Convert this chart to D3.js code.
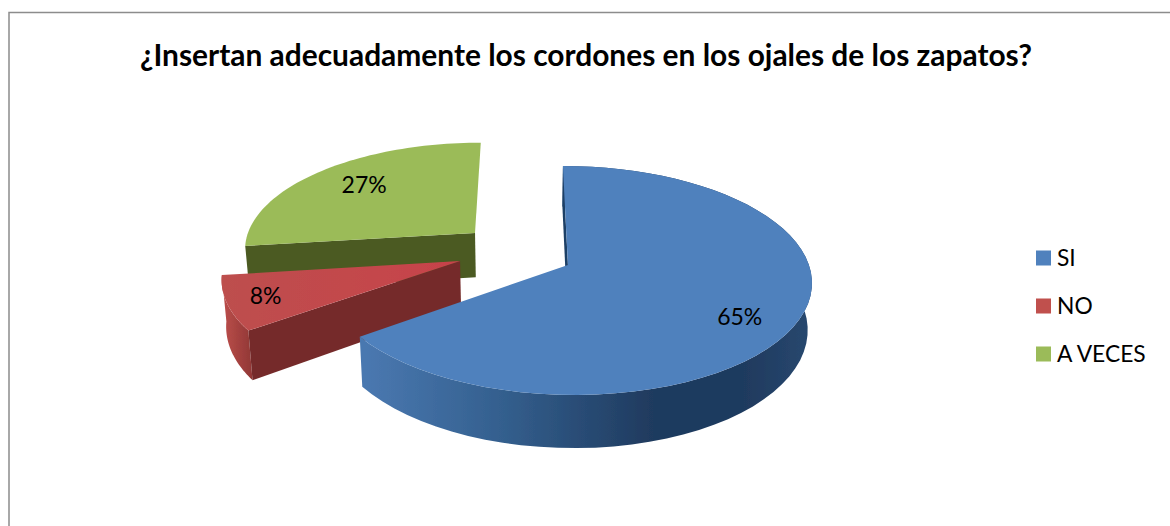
<!DOCTYPE html>
<html>
<head>
<meta charset="utf-8">
<script src="https://cdn.jsdelivr.net/npm/d3@7"></script>
<style>
  html, body { margin: 0; padding: 0; background: #fff; }
  svg { display: block; }
  text { font-family: Lato, "Open Sans", sans-serif; fill: #000; }
</style>
</head>
<body>
<div id="chart"></div>
<script>
/* 3D exploded pie, drawn with d3.pie and a small perspective projection */

const categories = ["SI", "NO", "A VECES"];
const values = [65, 8, 27];
const labels = ["65%", "8%", "27%"];
const title = "¿Insertan adecuadamente los cordones en los ojales de los zapatos?";

const width = 1170,
      height = 526;

// Projection of the pie plane onto the page
const view = { vx: 526, y0: 265, a: 241, b: 112.4, k: 0.135, depth: 46, shrink: 0.985 };

// Per slice look: how far it is pulled out, its colours, label nudge
const looks = [
    { du: 0.174, dv: 0, r: 1, top: "#4f81bd", wall: "#1f3f66", nudge: [-11, 17] },
    { du: -0.275, dv: -0.035, r: 0.98, top: "#bd4f4e", wall: "#752b2a", nudge: [-6, 9] },
    { du: -0.22, dv: -0.296, r: 0.98, top: "#9bbb59", wall: "#4b5a22", nudge: [16, 11] }
];

const color = d3.scaleOrdinal().domain(categories).range(["#4f81bd", "#c0504d", "#9bbb59"]);

let svg = d3.select("#chart")
    .append("svg")
    .attr("width", width)
    .attr("height", height)
    .attr("viewBox", [0, 0, width, height]);

let defs = svg.append("defs");
defs.append("filter").attr("id", "soft")
    .append("feGaussianBlur").attr("stdDeviation", 0.45);

// Chart frame, the bottom is cut by the picture
svg.append("path")
    .attr("d", `M9,${height + 2}V12.5H${width + 2}`)
    .attr("fill", "none")
    .attr("stroke", "#8c8c8c")
    .attr("stroke-width", 1.5);

svg.append("text")
    .attr("x", 586)
    .attr("y", 66)
    .attr("text-anchor", "middle")
    .style("font-size", "29.9px")
    .style("font-weight", 700)
    .text(title);

// angle in radians clockwise from the top, r as a share of the radius
function project(look, angle, r, lower) {
    const u = look.du + r * Math.sin(angle);
    const v = look.dv - r * Math.cos(angle);
    const w = 1 / (1 - view.k * v);
    let x = view.vx + view.a * u * w;
    let y = view.y0 + view.b * v * w;
    if (lower) {
        x = view.vx + (x - view.vx) * view.shrink;
        y += view.depth * w;
    }
    return [x, y];
}

const line = d3.line();

const arcAngles = (a0, a1) => d3.range(0, 61).map(i => a0 + (a1 - a0) * i / 60);

const pie = d3.pie().sort(null).startAngle(0).endAngle(2 * Math.PI);
const slices = pie(values).map((d, i) => ({ ...d, look: looks[i], name: categories[i], label: labels[i] }));

let pieG = svg.append("g").attr("filter", "url(#soft)");

function gradient(id, x0, x1, stops) {
    let g = defs.append("linearGradient")
        .attr("id", id)
        .attr("gradientUnits", "userSpaceOnUse")
        .attr("x1", x0).attr("x2", x1).attr("y1", 0).attr("y2", 0);
    stops.forEach(s => g.append("stop").attr("offset", s[0]).attr("stop-color", s[1]));
    return `url(#${id})`;
}

const blueWall = gradient("blueWall", 365, 810, [[0, "#4a78b0"], [0.3, "#34608f"], [0.65, "#1f3a5e"], [0.85, "#1f3a5e"], [1, "#28486f"]]);
const redSide = gradient("redSide", 220, 254, [[0, "#c0504d"], [1, "#8e3634"]]);
const redTop = gradient("redTop", 222, 460, [[0, "#bd4f4e"], [1, "#c8424a"]]);

// Paint back to front: green, red, blue
[slices[2], slices[1], slices[0]].forEach(s => {
    const look = s.look;
    let g = pieG.append("g").attr("class", "slice");
    const a0 = s.startAngle, a1 = s.endAngle;
    const arc = arcAngles(a0, a1);

    // outer curved wall, the green one faces away
    if (s.index !== 2) {
        g.append("path")
            .attr("fill", s.index === 0 ? blueWall : redSide)
            .attr("d", line(arc.map(a => project(look, a, look.r, false))
                .concat(arc.slice().reverse().map(a => project(look, a, look.r, true)))) + "Z");
    }

    // flat cut wall at the start of the slice
    g.append("path")
        .attr("fill", look.wall)
        .attr("d", line([
            project(look, a0, 0, false),
            project(look, a0, look.r, false),
            project(look, a0, look.r, true),
            project(look, a0, 0, true)
        ]) + "Z");

    // top face
    g.append("path")
        .attr("fill", s.index === 1 ? redTop : look.top)
        .attr("d", line([project(look, a0, 0, false)].concat(arc.map(a => project(look, a, look.r, false)))) + "Z");
});

// Data labels
svg.selectAll(".value")
    .data(slices)
    .join("text")
    .attr("class", "value")
    .attr("text-anchor", "middle")
    .style("font-size", "23px")
    .attr("x", d => project(d.look, (d.startAngle + d.endAngle) / 2, 0.8, false)[0] + d.look.nudge[0])
    .attr("y", d => project(d.look, (d.startAngle + d.endAngle) / 2, 0.8, false)[1] + d.look.nudge[1])
    .text(d => d.label);

// Legend
const legendY = d3.scalePoint().domain(categories).range([258, 354]);

let legend = svg.selectAll(".legend")
    .data(categories)
    .join("g")
    .attr("class", "legend")
    .attr("transform", d => `translate(1036,${legendY(d)})`);

legend.append("rect")
    .attr("x", 0)
    .attr("y", -7.5)
    .attr("width", 15)
    .attr("height", 15)
    .attr("fill", d => color(d));

legend.append("text")
    .attr("x", 21)
    .attr("y", 8)
    .style("font-size", "22.8px")
    .text(d => d);
</script>
</body>
</html>
